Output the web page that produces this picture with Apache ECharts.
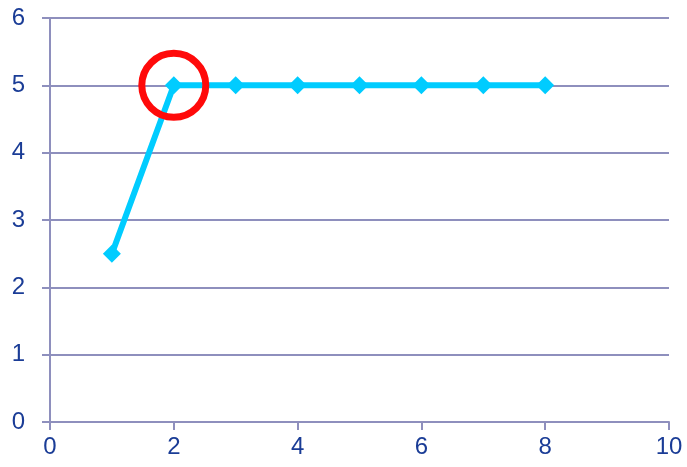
<!DOCTYPE html>
<html>
<head>
<meta charset="utf-8">
<script src="https://cdn.jsdelivr.net/npm/echarts@6/dist/echarts.min.js"></script>
<style>
html,body{margin:0;padding:0;background:#fff;}
#chart{width:687px;height:467px;}
</style>
</head>
<body>
<div id="chart"></div>
<script>
var xValues=[1,2,3,4,5,6,7,8];
var yValues=[2.5,5,5,5,5,5,5,5];
var highlight=[[2,5]];

var chart=echarts.init(document.getElementById('chart'));
var axisColor='#8e8fbd';
var labelColor='#1a3c96';
var option={
    animation:false,
    grid:{left:50,top:18,right:18,bottom:45,containLabel:false},
    xAxis:{
        type:'value',
        min:0,max:10,interval:2,
        axisLine:{show:true,lineStyle:{color:axisColor,width:2}},
        axisTick:{show:true,length:8,lineStyle:{color:axisColor,width:2}},
        splitLine:{show:false},
        axisLabel:{color:labelColor,fontSize:24,fontFamily:'Liberation Sans',margin:13}
    },
    yAxis:{
        type:'value',
        min:0,max:6,interval:1,
        axisLine:{show:true,lineStyle:{color:axisColor,width:2}},
        axisTick:{show:true,length:8,lineStyle:{color:axisColor,width:2}},
        splitLine:{show:true,lineStyle:{color:axisColor,width:2}},
        axisLabel:{color:labelColor,fontSize:24,fontFamily:'Liberation Sans',margin:25}
    },
    series:[{
        type:'line',
        data:xValues.map(function(x,i){return [x,yValues[i]];}),
        symbol:'diamond',
        symbolSize:18,
        lineStyle:{color:'#00ccff',width:6},
        itemStyle:{color:'#00ccff'}
    },{
        type:'scatter',
        data:highlight,
        symbol:'circle',
        symbolSize:64,
        itemStyle:{color:'rgba(0,0,0,0)',borderColor:'#ff0a0a',borderWidth:7,opacity:1},
        z:5
    }]
};
chart.setOption(option);
</script>
</body>
</html>
